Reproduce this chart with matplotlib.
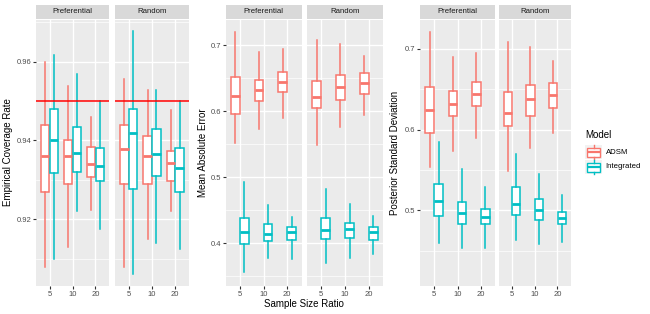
import matplotlib
matplotlib.use('Agg')
import matplotlib.pyplot as plt
from matplotlib.patches import Rectangle

plt.rcParams['font.family'] = ['Liberation Sans', 'DejaVu Sans']

ratios = ['5', '10', '20']
facets = ['Preferential', 'Random']
models = ['ADSM', 'Integrated']
colors = {'ADSM': '#F8766D', 'Integrated': '#00BFC4'}

# each entry: [whisker low, q1, median, q3, whisker high] for ratio 5, 10, 20
cov_pref_adsm = [[0.9080, 0.9268, 0.9360, 0.9439, 0.9598],
                 [0.9129, 0.9289, 0.9360, 0.9400, 0.9538],
                 [0.9223, 0.9308, 0.9340, 0.9384, 0.9459]]
cov_pref_int = [[0.9100, 0.9318, 0.9400, 0.9479, 0.9618],
                [0.9220, 0.9319, 0.9369, 0.9434, 0.9568],
                [0.9175, 0.9297, 0.9336, 0.9380, 0.9500]]
cov_rand_adsm = [[0.9080, 0.9289, 0.9378, 0.9439, 0.9557],
                 [0.9149, 0.9289, 0.9360, 0.9411, 0.9529],
                 [0.9220, 0.9298, 0.9343, 0.9374, 0.9478]]
cov_rand_int = [[0.9060, 0.9278, 0.9418, 0.9479, 0.9677],
                [0.9140, 0.9310, 0.9365, 0.9429, 0.9529],
                [0.9124, 0.9269, 0.9329, 0.9382, 0.9500]]

mae_pref_adsm = [[0.5523, 0.5955, 0.6234, 0.6519, 0.7204],
                 [0.5736, 0.6158, 0.6315, 0.6467, 0.6900],
                 [0.5890, 0.6290, 0.6437, 0.6589, 0.6945]]
mae_pref_int = [[0.3559, 0.3990, 0.4168, 0.4387, 0.4929],
                [0.3778, 0.4037, 0.4143, 0.4296, 0.4570],
                [0.3763, 0.4052, 0.4168, 0.4244, 0.4402]]
mae_rand_adsm = [[0.5483, 0.6041, 0.6208, 0.6458, 0.7076],
                 [0.5767, 0.6173, 0.6367, 0.6543, 0.7021],
                 [0.5949, 0.6264, 0.6432, 0.6580, 0.6843]]
mae_rand_int = [[0.3696, 0.4057, 0.4194, 0.4377, 0.4813],
                [0.3772, 0.4083, 0.4209, 0.4311, 0.4589],
                [0.3833, 0.4052, 0.4163, 0.4239, 0.4417]]

psd_pref_adsm = [[0.5531, 0.5955, 0.6245, 0.6527, 0.7212],
                 [0.5738, 0.6166, 0.6316, 0.6481, 0.6900],
                 [0.5900, 0.6294, 0.6440, 0.6589, 0.6950]]
psd_pref_int = [[0.4598, 0.4925, 0.5112, 0.5320, 0.5850],
                [0.4536, 0.4826, 0.4971, 0.5103, 0.5507],
                [0.4536, 0.4826, 0.4917, 0.5016, 0.5283]]
psd_rand_adsm = [[0.5489, 0.6045, 0.6211, 0.6465, 0.7082],
                 [0.5768, 0.6170, 0.6378, 0.6552, 0.7020],
                 [0.5962, 0.6273, 0.6431, 0.6580, 0.6846]]
psd_rand_int = [[0.4627, 0.4946, 0.5078, 0.5283, 0.5693],
                [0.4577, 0.4876, 0.5000, 0.5141, 0.5448],
                [0.4606, 0.4826, 0.4904, 0.4975, 0.5187]]

coverage_target = 0.95

W, H = 650, 314
fig = plt.figure(figsize=(6.5, 3.14), dpi=100)

TICK_FS = 5.5
STRIP_FS = 5.6
TITLE_FS = 7.0


def rect(x0, x1, y0, y1):
    return [x0 / W, 1 - y1 / H, (x1 - x0) / W, (y1 - y0) / H]


panels = [
    dict(xs=[(36, 109), (115, 189)], ylim=(0.9032, 0.9707),
         major=[0.92, 0.94, 0.96], minor=[0.91, 0.93, 0.95, 0.97], fmt='{:.2f}',
         data={('Preferential', 'ADSM'): cov_pref_adsm, ('Preferential', 'Integrated'): cov_pref_int,
               ('Random', 'ADSM'): cov_rand_adsm, ('Random', 'Integrated'): cov_rand_int},
         ylabel='Empirical Coverage Rate', ylx=8.5, hline=coverage_target),
    dict(xs=[(225.5, 301.5), (307, 383)], ylim=(0.3356, 0.739),
         major=[0.4, 0.5, 0.6, 0.7], minor=[0.35, 0.45, 0.55, 0.65], fmt='{:.1f}',
         data={('Preferential', 'ADSM'): mae_pref_adsm, ('Preferential', 'Integrated'): mae_pref_int,
               ('Random', 'ADSM'): mae_rand_adsm, ('Random', 'Integrated'): mae_rand_int},
         ylabel='Mean Absolute Error', ylx=203, hline=None),
    dict(xs=[(420, 495), (498.5, 571)], ylim=(0.4067, 0.7365),
         major=[0.5, 0.6, 0.7], minor=[0.45, 0.55, 0.65], fmt='{:.1f}',
         data={('Preferential', 'ADSM'): psd_pref_adsm, ('Preferential', 'Integrated'): psd_pref_int,
               ('Random', 'ADSM'): psd_rand_adsm, ('Random', 'Integrated'): psd_rand_int},
         ylabel='Posterior Standard Deviation', ylx=395, hline=None),
]

PT, PB = 19.5, 285.5
offsets = {'ADSM': -0.19, 'Integrated': 0.19}

for p in panels:
    for fi, facet in enumerate(facets):
        x0, x1 = p['xs'][fi]
        ax = fig.add_axes(rect(x0, x1, PT, PB))
        ax.set_facecolor('#EBEBEB')
        for s in ax.spines.values():
            s.set_visible(False)
        ax.set_xlim(-0.6, 2.6)
        ax.set_ylim(*p['ylim'])
        for v in p['minor']:
            ax.axhline(v, color='white', lw=0.5, zorder=0)
        for v in p['major']:
            ax.axhline(v, color='white', lw=1.0, zorder=0)
        for i in range(len(ratios)):
            ax.axvline(i, color='white', lw=1.0, zorder=0)
        for m in models:
            c = colors[m]
            vals = p['data'][(facet, m)]
            stats = [dict(whislo=v[0], q1=v[1], med=v[2], q3=v[3], whishi=v[4], fliers=[])
                     for v in vals]
            ax.bxp(stats, positions=[i + offsets[m] for i in range(len(ratios))],
                   widths=0.36, showcaps=False, showfliers=False, patch_artist=True,
                   manage_ticks=False,
                   boxprops=dict(facecolor='white', edgecolor=c, linewidth=1.1),
                   whiskerprops=dict(color=c, linewidth=1.1),
                   medianprops=dict(color=c, linewidth=2.0, solid_capstyle='butt'))
        if p['hline'] is not None:
            ax.axhline(p['hline'], color='#FF0000', lw=1.1, zorder=5)
        ax.set_xticks(range(len(ratios)))
        ax.set_xticklabels(ratios)
        ax.tick_params(axis='x', length=2.2, width=0.8, color='#333333',
                       labelcolor='#4D4D4D', labelsize=TICK_FS, pad=1.5)
        ax.set_yticks(p['major'])
        if fi == 0:
            ax.set_yticklabels([p['fmt'].format(v) for v in p['major']])
            ax.tick_params(axis='y', length=2.2, width=0.8, color='#333333',
                           labelcolor='#4D4D4D', labelsize=TICK_FS, pad=1.2)
        else:
            ax.tick_params(axis='y', length=0, labelleft=False)
        # strip
        sax = fig.add_axes(rect(x0, x1, 5, 18.5))
        sax.set_facecolor('#D9D9D9')
        sax.set_xticks([])
        sax.set_yticks([])
        for s in sax.spines.values():
            s.set_visible(False)
        sax.text(0.5, 0.5, facet, ha='center', va='center', fontsize=STRIP_FS,
                 color='#1A1A1A', transform=sax.transAxes)
    fig.text(p['ylx'] / W, 1 - ((PT + PB) / 2) / H, p['ylabel'], rotation=90,
             ha='center', va='center', fontsize=TITLE_FS, color='black')

fig.text(304 / W, 1 - 304 / H, 'Sample Size Ratio', ha='center', va='center',
         fontsize=TITLE_FS, color='black')

# legend
lax = fig.add_axes(rect(578, 650, 125, 180))
lax.set_xlim(578, 650)
lax.set_ylim(180, 125)
lax.axis('off')
lax.text(585.5, 135, 'Model', ha='left', va='center', fontsize=TITLE_FS, color='black')
for k, m in enumerate(models):
    yc = 152 + k * 15
    c = colors[m]
    lax.add_patch(Rectangle((585, yc - 7.2), 17, 14.4, facecolor='#F2F2F2', edgecolor='none'))
    lax.add_patch(Rectangle((587, yc - 4.5), 13, 9, facecolor='white', edgecolor=c, lw=1.0))
    lax.plot([587, 600], [yc, yc], color=c, lw=1.6, solid_capstyle='butt')
    lax.plot([593.5, 593.5], [yc - 7.2, yc - 4.5], color=c, lw=1.0)
    lax.plot([593.5, 593.5], [yc + 4.5, yc + 7.2], color=c, lw=1.0)
    lax.text(605.5, yc, m, ha='left', va='center', fontsize=STRIP_FS, color='black')

fig.savefig('out.png', dpi=100)
